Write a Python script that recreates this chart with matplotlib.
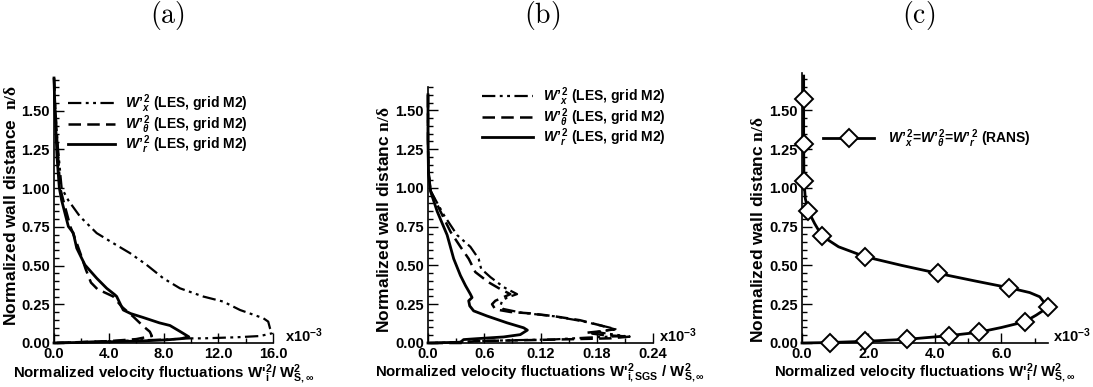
import matplotlib
matplotlib.use('Agg')
import matplotlib.pyplot as plt
from matplotlib.ticker import FixedLocator, MultipleLocator

# ---- data (x values in units of 1e-3) ----
# (a) resolved LES fluctuations
a_x_x = [0.0, 0.1, 0.25, 0.4, 0.56, 1.05, 1.9, 3.12, 4.33, 5.55, 6.77, 7.98, 9.2, 10.9, 12.37, 13.59,
         15.29, 15.65, 15.78, 15.95, 15.05, 13.35, 10.9, 9.93, 8.0, 5.0, 2.0, 0.0]
a_x_y = [1.71, 1.5, 1.3, 1.15, 1.0, 0.92, 0.816, 0.709, 0.644, 0.58, 0.504, 0.418, 0.353, 0.30, 0.267, 0.213,
         0.16, 0.138, 0.095, 0.063, 0.045, 0.037, 0.03, 0.03, 0.022, 0.014, 0.006, 0.0]
a_t_x = [0.0, 0.07, 0.2, 0.3, 0.45, 0.68, 1.2, 1.6, 2.0, 2.3, 2.7, 3.2, 3.6, 4.33, 4.94, 5.79, 6.5, 7.0,
         7.15, 6.0, 4.0, 2.0, 0.0]
a_t_y = [1.71, 1.55, 1.35, 1.2, 1.0, 0.92, 0.75, 0.66, 0.56, 0.48, 0.39, 0.345, 0.33, 0.30, 0.235, 0.17,
         0.11, 0.073, 0.045, 0.025, 0.012, 0.006, 0.0]
a_r_x = [0.0, 0.05, 0.15, 0.22, 0.39, 0.56, 1.05, 1.41, 1.66, 2.26, 3.12, 3.85, 4.45, 4.58, 4.82, 5.06,
         5.6, 6.5, 7.7, 8.47, 9.2, 9.85, 9.3, 8.2, 6.0, 4.0, 2.0, 0.0]
a_r_y = [1.71, 1.55, 1.35, 1.2, 1.0, 0.92, 0.752, 0.71, 0.612, 0.504, 0.418, 0.353, 0.311, 0.30, 0.256, 0.213,
         0.19, 0.165, 0.13, 0.113, 0.075, 0.04, 0.028, 0.02, 0.012, 0.008, 0.004, 0.0]

# (b) sub-grid scale fluctuations
b_x_x = [0.0, 0.0, 0.0005, 0.003, 0.0168, 0.031, 0.0452, 0.054, 0.0567, 0.0667, 0.081, 0.095, 0.0844,
         0.079, 0.0773, 0.08, 0.10, 0.135, 0.165, 0.19, 0.2, 0.18, 0.21, 0.17, 0.134, 0.099, 0.05, 0.03, 0.0]
b_x_y = [1.6, 1.3, 1.1, 0.978, 0.826, 0.696, 0.62, 0.543, 0.478, 0.424, 0.359, 0.315, 0.293,
         0.272, 0.239, 0.22, 0.195, 0.172, 0.14, 0.105, 0.09, 0.07, 0.045, 0.035, 0.023, 0.019, 0.012, 0.005, 0.0]
b_t_x = [0.0, 0.0, 0.0005, 0.003, 0.0133, 0.024, 0.0346, 0.0434, 0.0505, 0.0647, 0.077, 0.0878, 0.0718,
         0.0683, 0.0718, 0.0878, 0.109, 0.134, 0.162, 0.183, 0.199, 0.18, 0.169, 0.187, 0.215, 0.194,
         0.12, 0.05, 0.035, 0.0]
b_t_y = [1.6, 1.3, 1.1, 0.978, 0.848, 0.717, 0.62, 0.543, 0.457, 0.391, 0.348, 0.315, 0.272,
         0.25, 0.217, 0.2, 0.191, 0.173, 0.147, 0.115, 0.088, 0.073, 0.066, 0.051, 0.041, 0.03,
         0.02, 0.012, 0.0, 0.0]
b_r_x = [0.0, 0.0, 0.0005, 0.0027, 0.0098, 0.0204, 0.0274, 0.0346, 0.040, 0.0452, 0.047, 0.0434, 0.0445,
         0.0487, 0.063, 0.0843, 0.102, 0.106, 0.0984, 0.0806, 0.0523, 0.038, 0.0346, 0.0]
b_r_y = [1.6, 1.3, 1.1, 0.978, 0.848, 0.696, 0.543, 0.435, 0.37, 0.315, 0.293, 0.272, 0.239,
         0.207, 0.174, 0.13, 0.098, 0.083, 0.054, 0.039, 0.028, 0.022, 0.005, 0.0]

# (c) RANS (isotropic)
c_x = [0.05, 0.05, 0.05, 0.06, 0.1, 0.19, 0.38, 0.6, 1.1, 1.9, 3.0, 4.09, 5.2, 6.23, 6.85, 7.15, 7.4,
       7.05, 6.7, 6.0, 5.31, 4.41, 3.17, 1.9, 0.85, 0.0]
c_y = [1.72, 1.57, 1.28, 1.045, 0.93, 0.85, 0.77, 0.69, 0.62, 0.556, 0.50, 0.449, 0.40, 0.356, 0.325,
       0.298, 0.23, 0.18, 0.137, 0.10, 0.069, 0.047, 0.024, 0.011, 0.003, 0.0]
c_mx = [0.05, 0.05, 0.05, 0.19, 0.6, 1.9, 4.09, 6.23, 7.4, 6.7, 5.31, 4.41, 3.17, 1.9, 0.85]
c_my = [1.57, 1.28, 1.045, 0.85, 0.69, 0.556, 0.449, 0.356, 0.23, 0.137, 0.069, 0.047, 0.024, 0.011, 0.003]

yticks = [0.0, 0.25, 0.5, 0.75, 1.0, 1.25, 1.5]
a_xticks = [0.0, 4.0, 8.0, 12.0, 16.0]
a_xlabels = ['0.0', '4.0', '8.0', '12.0', '16.0']
b_xticks = [0.0, 0.06, 0.12, 0.18, 0.24]
b_xlabels = ['0.0', '0.6', '0.12', '0.18', '0.24']
c_xticks = [0.0, 2.0, 4.0, 6.0]
c_xlabels = ['0.0', '2.0', '4.0', '6.0']

lab_x = r"$W’_{x}^{\,2}$ (LES, grid M2)"
lab_t = r"$W’_{\theta}^{\,2}$ (LES, grid M2)"
lab_r = r"$W’_{r}^{\,2}$ (LES, grid M2)"
lab_c = r"$W’_{x}^{\,2}$=$W’_{\theta}^{\,2}$=$W’_{r}^{\,2}$ (RANS)"

plt.rcParams['font.family'] = ['Liberation Sans', 'DejaVu Sans']
plt.rcParams['font.weight'] = 'bold'
plt.rcParams['mathtext.fontset'] = 'custom'
plt.rcParams['mathtext.rm'] = 'Liberation Sans:bold'
plt.rcParams['mathtext.it'] = 'Liberation Sans:italic:bold'
plt.rcParams['mathtext.bf'] = 'Liberation Sans:bold'
plt.rcParams['mathtext.sf'] = 'Liberation Serif'

DDOT = (0, (6, 2, 1.3, 2, 1.3, 2))
DASH = (0, (5, 2.5))
TICKFS = 10.5


def style_axes(ax, xticks, xlabels, xminor, xmax, ymax, xoff):
    ax.set_xlim(0, xmax)
    ax.set_ylim(0, ymax)
    for s in ['top', 'right']:
        ax.spines[s].set_visible(False)
    for s in ['left', 'bottom']:
        ax.spines[s].set_linewidth(1.2)
    ax.xaxis.set_major_locator(FixedLocator(xticks))
    ax.set_xticklabels(xlabels)
    ax.xaxis.set_minor_locator(MultipleLocator(xminor))
    ax.set_yticks(yticks)
    ax.set_yticklabels(['%.2f' % v for v in yticks])
    ax.yaxis.set_minor_locator(MultipleLocator(0.05))
    ax.tick_params(which='both', direction='in', top=False, right=False, width=1)
    ax.tick_params(which='major', length=7, labelsize=TICKFS)
    ax.tick_params(axis='x', which='major', pad=3)
    ax.tick_params(axis='y', which='major', pad=3)
    ax.tick_params(which='minor', length=3.5)
    for t in ax.get_xticklabels() + ax.get_yticklabels():
        t.set_fontweight('bold')
    ax.text(1.0 + xoff, 0.028, r'x10$^{-3}$', transform=ax.transAxes,
            ha='left', va='center', fontsize=10.5, fontweight='bold')


fig = plt.figure(figsize=(10.93, 3.87), dpi=100)
W, H = 1093.0, 387.0
xlab1 = r"Normalized velocity fluctuations W'$_{\mathrm{i}}^{2}$/ W$_{\mathrm{S,\infty}}^{2}$"
xlab2 = r"Normalized velocity fluctuations W'$_{\mathrm{i,SGS}}^{2}$ / W$_{\mathrm{S,\infty}}^{2}$"
leg_kw = dict(loc='upper left', frameon=False, borderpad=0, borderaxespad=0)

# (a)
axa = fig.add_axes([54 / W, 1 - 343 / H, 219 / W, 265 / H])
axa.plot(a_x_x, a_x_y, color='black', lw=1.6, ls=DDOT, label=lab_x, clip_on=False)
axa.plot(a_t_x, a_t_y, color='black', lw=1.8, ls=DASH, label=lab_t, clip_on=False)
axa.plot(a_r_x, a_r_y, color='black', lw=2.0, label=lab_r, clip_on=False)
style_axes(axa, a_xticks, a_xlabels, 2.0, 16.0, 1.71, 0.055)
axa.legend(bbox_to_anchor=(0.065, 0.945), fontsize=10, handlelength=3.4, handletextpad=0.7,
           labelspacing=-0.15, **leg_kw)
axa.set_ylabel(r"Normalized wall distance  $\mathsf{n/\delta}$", fontsize=12.5, fontweight='bold')
axa.yaxis.set_label_coords(-0.16, 0.52)
axa.set_xlabel(xlab1, fontsize=10.8, fontweight='bold', va='top')
axa.xaxis.set_label_coords(0.5, -0.072)

# (b)
axb = fig.add_axes([428 / W, 1 - 343 / H, 225 / W, 256 / H])
axb.plot(b_x_x, b_x_y, color='black', lw=1.6, ls=DDOT, label=lab_x, clip_on=False)
axb.plot(b_t_x, b_t_y, color='black', lw=1.8, ls=DASH, label=lab_t, clip_on=False)
axb.plot(b_r_x, b_r_y, color='black', lw=2.0, label=lab_r, clip_on=False)
style_axes(axb, b_xticks, b_xlabels, 0.03, 0.24, 1.65, 0.027)
axb.legend(bbox_to_anchor=(0.24, 1.005), fontsize=10, handlelength=3.7, handletextpad=0.7,
           labelspacing=-0.15, **leg_kw)
axb.set_ylabel(r"Normalized wall distanc $\mathsf{n/\delta}$", fontsize=12.5, fontweight='bold')
axb.yaxis.set_label_coords(-0.16, 0.48)
axb.set_xlabel(xlab2, fontsize=10.8, fontweight='bold', va='top')
axb.xaxis.set_label_coords(0.5, -0.072)

# (c)
axc = fig.add_axes([802 / W, 1 - 343 / H, 246 / W, 270 / H])
axc.plot(c_x, c_y, color='black', lw=2.0, clip_on=False)
axc.plot(c_mx, c_my, ls='none', marker='D', ms=9, mfc='white', mec='black', mew=1.4, clip_on=False,
         zorder=3)
style_axes(axc, c_xticks, c_xlabels, 1.0, 7.4, 1.74, 0.02)
h = plt.Line2D([], [], color='black', lw=2.0, marker='D', ms=9, mfc='white', mec='black', mew=1.4)
axc.legend([h], [lab_c], bbox_to_anchor=(0.085, 0.8), fontsize=10, handlelength=3.7,
           handletextpad=1.0, numpoints=1, **leg_kw)
axc.set_ylabel(r"Normalized wall distanc $\mathsf{n/\delta}$", fontsize=12.5, fontweight='bold')
axc.yaxis.set_label_coords(-0.148, 0.42)
axc.set_xlabel(xlab1, fontsize=10.8, fontweight='bold', va='top')
axc.xaxis.set_label_coords(0.5, -0.07)

# panel letters
for xp, s in zip([167, 542, 919], ['(a)', '(b)', '(c)']):
    fig.text(xp / W, 1 - 16 / H, r'$\mathrm{' + s + '}$', ha='center', va='center', fontsize=20,
             math_fontfamily='cm', fontweight='normal')

fig.savefig('out.png', dpi=100)
